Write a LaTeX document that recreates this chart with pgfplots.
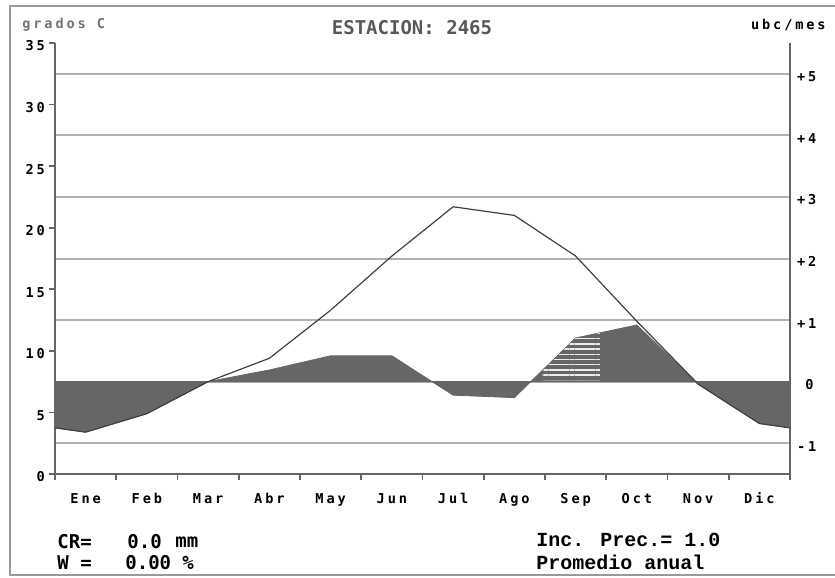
\documentclass[border=0pt]{standalone}
\usepackage{fontspec}
\usepackage{pgfplots}
\pgfplotsset{compat=1.18}
\usetikzlibrary{patterns.meta}
\setmainfont{DejaVu Sans Mono}
\newfontfamily\dos[LetterSpace=21]{DejaVu Sans Mono}
\newfontfamily\cour{Liberation Mono}
\newcommand\tickf{\dos\bfseries\fontsize{6.8}{8}\selectfont}

% temperatura media mensual (grados C)
\pgfplotstableread{
x    t
0    3.75
0.5  3.4
1.5  4.9
2.5  7.5
3.5  9.4
4.5  13.3
5.5  17.7
6.5  21.7
7.5  21.0
8.5  17.7
9.5  12.4
10.5 7.3
11.5 4.1
12   3.75
}\temp

% balance (escala izquierda, 0 ubc = 7.5)
\pgfplotstableread{
x    b
0    7.5
0    3.75
0.5  3.4
1.5  4.9
2.5  7.5
3.5  8.45
4.5  9.6
5.5  9.6
6.5  6.4
7.5  6.2
8.5  11.05
9.5  12.1
10.5 7.3
11.5 4.1
12   3.75
12   7.5
0    7.5
}\bal

\begin{document}
\begin{tikzpicture}[x=0.5pt,y=0.5pt]
\useasboundingbox (0,0) rectangle (835,578);
\draw[gray!80, line width=1pt] (835,572) -- (10,572) -- (10,3) -- (835,3);

% eje derecho con rejilla
\begin{axis}[
  at={(27.5pt,52pt)}, anchor=south west,
  width=367.5pt, height=215.5pt, scale only axis,
  xmin=0, xmax=12, ymin=-1.5, ymax=5.5,
  axis x line=none, axis y line*=right,
  axis line style={black!60, line width=1pt},
  ytick={-1,0,1,2,3,4,5},
  yticklabels={-1,\hphantom{+}0,+1,+2,+3,+4,+5},
  yticklabel style={font=\tickf, anchor=west, xshift=0pt, yshift=-1.5pt},
  major tick length=0pt,
  ymajorgrids, grid style={gray!60, line width=1pt},
]
\addplot[draw=none] coordinates {(0,0) (12,0)};
\end{axis}

\begin{axis}[
  at={(27.5pt,52pt)}, anchor=south west,
  width=367.5pt, height=215.5pt, scale only axis,
  xmin=0, xmax=12, ymin=0, ymax=35,
  axis x line*=bottom, axis y line*=left,
  axis line style={black!60, line width=1pt},
  xtick={0,1,...,12}, xticklabels={},
  extra x ticks={0.5,1.5,...,11.5},
  extra x tick labels={Ene,Feb,Mar,Abr,May,Jun,Jul,Ago,Sep,Oct,Nov,Dic},
  extra x tick style={major tick length=0pt, xticklabel style={yshift=-2.5pt}},
  xticklabel style={font=\tickf, text height=1.6ex, text depth=0.3ex},
  ytick={0,5,...,35},
  yticklabels={0,5,10,15,20,25,30,35},
  yticklabel style={font=\tickf, anchor=east, xshift=1.5pt, yshift=-1.5pt},
  tick align=outside, major tick length=3pt,
  tick style={black!60, line width=0.8pt},
]
\addplot[fill=black!60, draw=black!60, line width=0.4pt] table[x=x, y=b] {\bal};
\addplot[draw=none, pattern={Lines[angle=0, distance=2.6pt, line width=0.7pt]}, pattern color=white!85!gray]
  coordinates {(7.96,7.6) (7.96,8.4) (8.5,11.05) (8.9,11.45) (8.9,7.6)};
\addplot[black!75, line width=0.6pt] table[x=x, y=t] {\temp};
\end{axis}

\node[text=black!65, font=\bfseries\fontsize{9.5}{11}\selectfont] at (412,550) {ESTACION: 2465};
\node[anchor=west, font=\tickf, text=black!55, inner sep=0pt] at (22,553) {grados C};
\node[anchor=east, font=\tickf, inner sep=0pt] at (826,553) {ubc/mes};

\node[anchor=west, font=\bfseries\fontsize{9.5}{11}\selectfont, inner sep=0pt] at (57,36) {CR=};
\node[anchor=west, font=\bfseries\fontsize{9.5}{11}\selectfont, inner sep=0pt] at (127,36) {0.0};
\node[anchor=west, font=\bfseries\fontsize{9.5}{11}\selectfont, inner sep=0pt] at (175,36) {mm};
\node[anchor=west, font=\bfseries\fontsize{9.5}{11}\selectfont, inner sep=0pt] at (57,15) {W =};
\node[anchor=west, font=\bfseries\fontsize{9.5}{11}\selectfont, inner sep=0pt] at (125,15) {0.00};
\node[anchor=west, font=\bfseries\fontsize{9.5}{11}\selectfont, inner sep=0pt] at (182,15) {\%};
\node[anchor=west, font=\cour\bfseries\fontsize{10}{12}\selectfont, inner sep=0pt] at (536,38) {Inc. Prec.= 1.0};
\node[anchor=west, font=\cour\bfseries\fontsize{10}{12}\selectfont, inner sep=0pt] at (536,16) {Promedio anual};
\end{tikzpicture}
\end{document}
